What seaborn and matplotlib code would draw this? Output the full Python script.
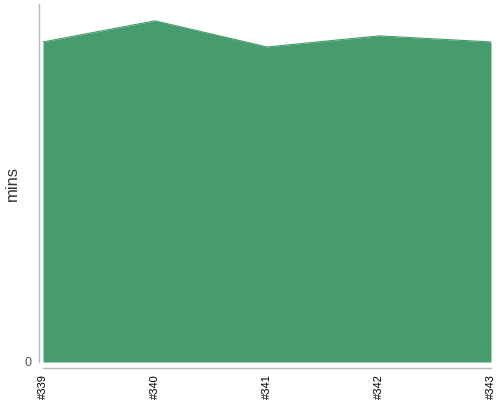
import matplotlib
matplotlib.use("Agg")
import matplotlib.pyplot as plt
import seaborn as sns
import pandas as pd

builds = ["#339", "#340", "#341", "#342", "#343"]
mins = [89.4, 95.3, 88.0, 91.1, 89.4]

sns.set_style("white")
plt.rcParams['font.family'] = ['Liberation Sans', 'DejaVu Sans']

df = pd.DataFrame({"build": builds, "mins": mins, "pos": range(len(builds))})

fig = plt.figure(figsize=(5, 4), dpi=100)
ax = fig.add_axes([0.086, 0.095, 0.896, 0.895])
color = "#469c6c"
sns.lineplot(data=df, x="pos", y="mins", color=color, linewidth=0.8, ax=ax)
ax.fill_between(df["pos"], 0, df["mins"], color=color, linewidth=0)

for s in ["top", "right"]:
    ax.spines[s].set_visible(False)
ax.spines["left"].set_position(("outward", 3))
ax.spines["bottom"].set_position(("outward", 4))
for s in ["left", "bottom"]:
    ax.spines[s].set_color("#bbbbbb")
    ax.spines[s].set_linewidth(1)
ax.tick_params(axis="both", length=3.5, width=1, color="#bbbbbb", pad=2)
ax.tick_params(axis="x", labelsize=8, labelcolor="black", labelrotation=90, pad=1.5)
ax.tick_params(axis="y", labelsize=9, labelcolor="#555555")

ax.set_xlim(0, len(builds) - 1)
ax.set_ylim(0, 100)
ax.set_xticks(range(len(builds)))
ax.set_xticklabels(builds)
ax.set_yticks([0])
ax.set_yticklabels(["0"])
ax.set_xlabel("")
ax.set_ylabel("mins", fontsize=12, color="#333333", labelpad=3)
for lab in ax.get_xticklabels():
    lab.set_ha("center")
    lab.set_va("top")

fig.savefig("out.png", dpi=100)
